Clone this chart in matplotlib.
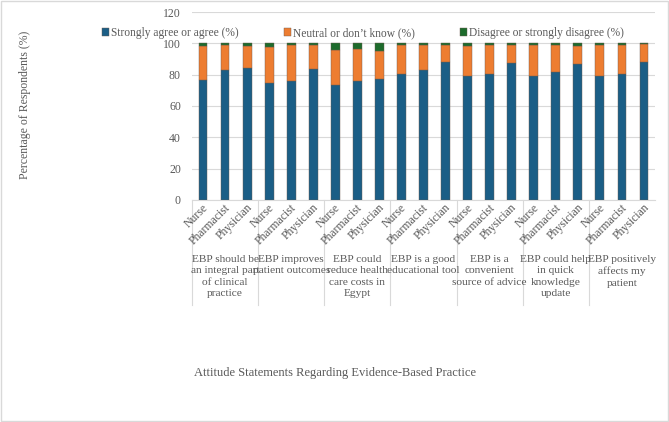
import numpy as np
import matplotlib
matplotlib.use("Agg")
import matplotlib.pyplot as plt
import matplotlib.transforms as mtransforms
from matplotlib.patches import Rectangle

# -------------------------
# data
# -------------------------
statements = [
    "EBP should be\nan integral part\nof clinical\npractice",
    "EBP improves\npatient outcomes",
    "EBP could\nreduce health\ncare costs in\nEgypt",
    "EBP is a good\neducational tool",
    "EBP is a\nconvenient\nsource of advice",
    "EBP could help\nin quick\nknowledge\nupdate",
    "EBP positively\naffects my\npatient",
]
professions = ["Nurse", "Pharmacist", "Physician"]

agree = [76.3, 82.8, 84.0, 74.5, 76.0, 83.6, 73.5, 76.0, 77.2,
         80.6, 82.8, 87.9, 79.4, 80.2, 87.5, 79.4, 81.5, 86.6,
         79.4, 80.2, 88.3]
disagree = [2.0, 1.0, 2.0, 2.5, 1.0, 1.0, 4.0, 3.5, 5.0,
            1.0, 1.0, 1.0, 2.0, 1.0, 1.0, 1.0, 1.0, 1.5,
            1.0, 1.0, 0.5]
neutral = [100 - a - d for a, d in zip(agree, disagree)]

# -------------------------
# style
# -------------------------
plt.rcParams.update({
    'font.family': ['Liberation Serif', 'DejaVu Serif'],
    'font.size': 8,
    'text.color': '#595959',
    'xtick.color': '#595959',
    'ytick.color': '#595959',
})
c_blue = "#1B5E86"
c_orange = "#ED7D31"
c_green = "#1D6B2C"
grey = "#595959"

fig = plt.figure(figsize=(6.69, 4.22), dpi=100)
ax = fig.add_axes([192 / 669, 1 - 200 / 422, 463 / 669, 188 / 422])

n = len(agree)
x = np.arange(n)
w = 0.4
edge = dict(edgecolor="#6b5a4e", linewidth=0.3)
ax.bar(x, agree, w, color=c_blue, label="Strongly agree or agree (%)", zorder=3, **edge)
ax.bar(x, neutral, w, bottom=agree, color=c_orange, label="Neutral or don\u2019t know (%)", zorder=3, **edge)
ax.bar(x, disagree, w, bottom=np.array(agree) + np.array(neutral), color=c_green,
       label="Disagree or strongly disagree (%)", zorder=3, **edge)

ax.set_xlim(-0.5, n - 0.5)
ax.set_ylim(0, 120)
ax.set_yticks(np.arange(0, 121, 20))
ax.grid(axis='y', color='#d9d9d9', linewidth=0.8, zorder=0)
for s in ['top', 'right', 'left']:
    ax.spines[s].set_visible(False)
ax.spines['bottom'].set_color('#d9d9d9')
ax.tick_params(axis='y', length=0, labelsize=8.5, pad=8)
ax.set_xticks([])

# multi-level category axis
trans = mtransforms.blended_transform_factory(ax.transData, ax.transAxes)
for i in range(n):
    ax.text(x[i] + 0.15, -0.03, professions[i % 3], transform=trans, rotation=45,
            rotation_mode='anchor', ha='right', va='center', fontsize=8.5, color=grey)
for g, lab in enumerate(statements):
    ax.text(3 * g + 1, -0.29, lab, transform=trans, ha='center', va='top',
            fontsize=8.2, color=grey, linespacing=1.38)
    ax.plot([3 * g - 0.5, 3 * g - 0.5], [0, -0.56], transform=trans, color='#d9d9d9',
            linewidth=0.8, clip_on=False)

fig.text(0.5, 1 - 373 / 422, "Attitude Statements Regarding Evidence-Based Practice",
         ha='center', va='center', fontsize=9, color=grey)
fig.text(25 / 669, 1 - 105 / 422, "Percentage of Respondents (%)", rotation=90,
         ha='center', va='center', fontsize=8.5, color=grey)

fig.legend(loc='center', bbox_to_anchor=(0.5426, 1 - 33 / 422), ncol=3, frameon=False,
           handlelength=0.6, handleheight=0.6, handletextpad=0.2, columnspacing=3.9,
           fontsize=8.3, labelcolor=grey)

fig.patches.append(Rectangle((0.002, 0.002), 0.996, 0.996, transform=fig.transFigure,
                             fill=False, edgecolor='#d9d9d9', linewidth=1))

fig.savefig("out.png", dpi=100)
